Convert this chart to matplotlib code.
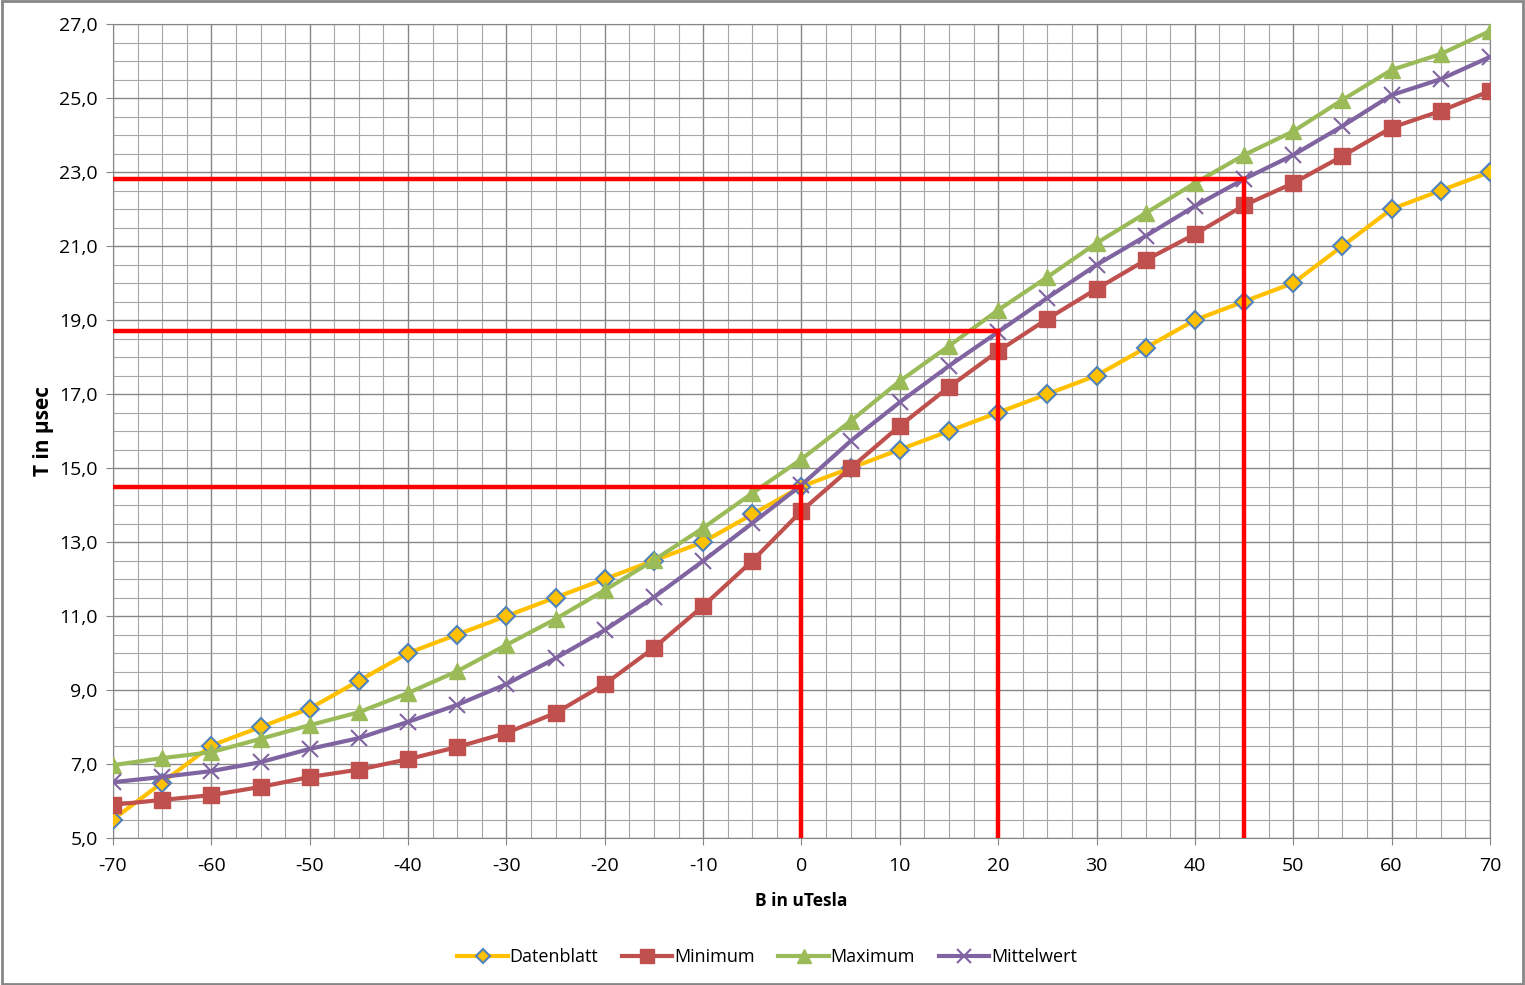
import numpy as np
import matplotlib
matplotlib.use("Agg")
from matplotlib import pyplot as plt
from matplotlib.ticker import MultipleLocator, FuncFormatter

# B in uTesla
b = [-70, -65, -60, -55, -50, -45, -40, -35, -30, -25, -20, -15, -10, -5, 0,
     5, 10, 15, 20, 25, 30, 35, 40, 45, 50, 55, 60, 65, 70]

datenblatt = [5.5, 6.5, 7.5, 8.0, 8.5, 9.25, 10.0, 10.5, 11.0, 11.5, 12.0, 12.5,
              13.0, 13.75, 14.5, 15.0, 15.5, 16.0, 16.5, 17.0, 17.5, 18.25, 19.0,
              19.5, 20.0, 21.0, 22.0, 22.5, 23.0]
minimum = [5.9, 6.03, 6.16, 6.38, 6.65, 6.85, 7.13, 7.46, 7.84, 8.38, 9.16, 10.14,
           11.27, 12.49, 13.84, 15.0, 16.14, 17.19, 18.16, 19.03, 19.84, 20.62,
           21.32, 22.1, 22.7, 23.43, 24.2, 24.65, 25.19]
maximum = [6.97, 7.16, 7.32, 7.68, 8.05, 8.4, 8.92, 9.51, 10.22, 10.92, 11.7, 12.51,
           13.38, 14.32, 15.24, 16.27, 17.35, 18.3, 19.27, 20.16, 21.08, 21.89,
           22.7, 23.46, 24.1, 24.95, 25.76, 26.19, 26.81]
mittelwert = [6.51, 6.65, 6.81, 7.05, 7.41, 7.7, 8.14, 8.6, 9.16, 9.86, 10.62, 11.51,
              12.49, 13.51, 14.54, 15.73, 16.78, 17.76, 18.68, 19.6, 20.49, 21.27,
              22.08, 22.81, 23.46, 24.24, 25.08, 25.51, 26.11]

# red reading lines (B, T)
ref_b = [0, 20, 45]
ref_t = [14.5, 18.7, 22.8]

plt.rcParams['font.family'] = ['Open Sans', 'DejaVu Sans']
plt.rcParams['axes.unicode_minus'] = False

fig = plt.figure(figsize=(15.25, 9.85), dpi=100)
ax = fig.add_axes([0.0741, 0.1492, 0.9029, 0.8264])

lw = 3.0
ax.plot(b, datenblatt, color="#ffc000", lw=lw, marker="D", ms=9,
        mfc="#ffc000", mec="#4f81bd", mew=1.5, label="Datenblatt", zorder=5)
ax.plot(b, minimum, color="#c0504d", lw=lw, marker="s", ms=12,
        mfc="#c0504d", mec="#c0504d", label="Minimum", zorder=5)
ax.plot(b, maximum, color="#9bbb59", lw=lw, marker="^", ms=12,
        mfc="#9bbb59", mec="#9bbb59", label="Maximum", zorder=5)
ax.plot(b, mittelwert, color="#8064a2", lw=lw, marker="x", ms=12,
        mew=1.5, label="Mittelwert", zorder=5)

for xb, yt in zip(ref_b, ref_t):
    ax.plot([-70, xb], [yt, yt], color="#ff0000", lw=3.2, zorder=6)
    ax.plot([xb, xb], [5, yt], color="#ff0000", lw=3.2, zorder=6)

ax.set_xlim(-70, 70)
ax.set_ylim(5, 27)
ax.xaxis.set_major_locator(MultipleLocator(10))
ax.xaxis.set_minor_locator(MultipleLocator(2.5))
ax.yaxis.set_major_locator(MultipleLocator(2, offset=1))
ax.yaxis.set_minor_locator(MultipleLocator(0.5))
ax.yaxis.set_major_formatter(FuncFormatter(lambda v, p: f"{v:.1f}".replace(".", ",")))
ax.grid(which="major", color="#868686", lw=1.0)
ax.grid(which="minor", color="#a6a6a6", lw=0.8)
ax.set_axisbelow(True)
ax.tick_params(which="major", labelsize=14, length=5, color="#868686")
ax.tick_params(axis="x", which="major", pad=9)
ax.tick_params(axis="y", which="major", pad=6)
ax.tick_params(which="minor", length=0)
for s in ax.spines.values():
    s.set_color("#868686")

ax.set_xlabel("B in uTesla", fontsize=12.5, fontweight="bold", labelpad=12)
ax.set_ylabel("T in µsec", fontsize=15, fontweight="bold", labelpad=4)

ax.legend(loc="lower center", bbox_to_anchor=(0.475, -0.177), ncol=4, frameon=False,
          fontsize=13, handlelength=2.8, columnspacing=1.3, handletextpad=0.1,
          markerscale=0.8)

fig.patches.append(plt.Rectangle((0.001, 0.001), 0.998, 0.998, transform=fig.transFigure,
                                 fill=False, edgecolor="#868686", lw=2))

fig.savefig("out.png", dpi=100)
